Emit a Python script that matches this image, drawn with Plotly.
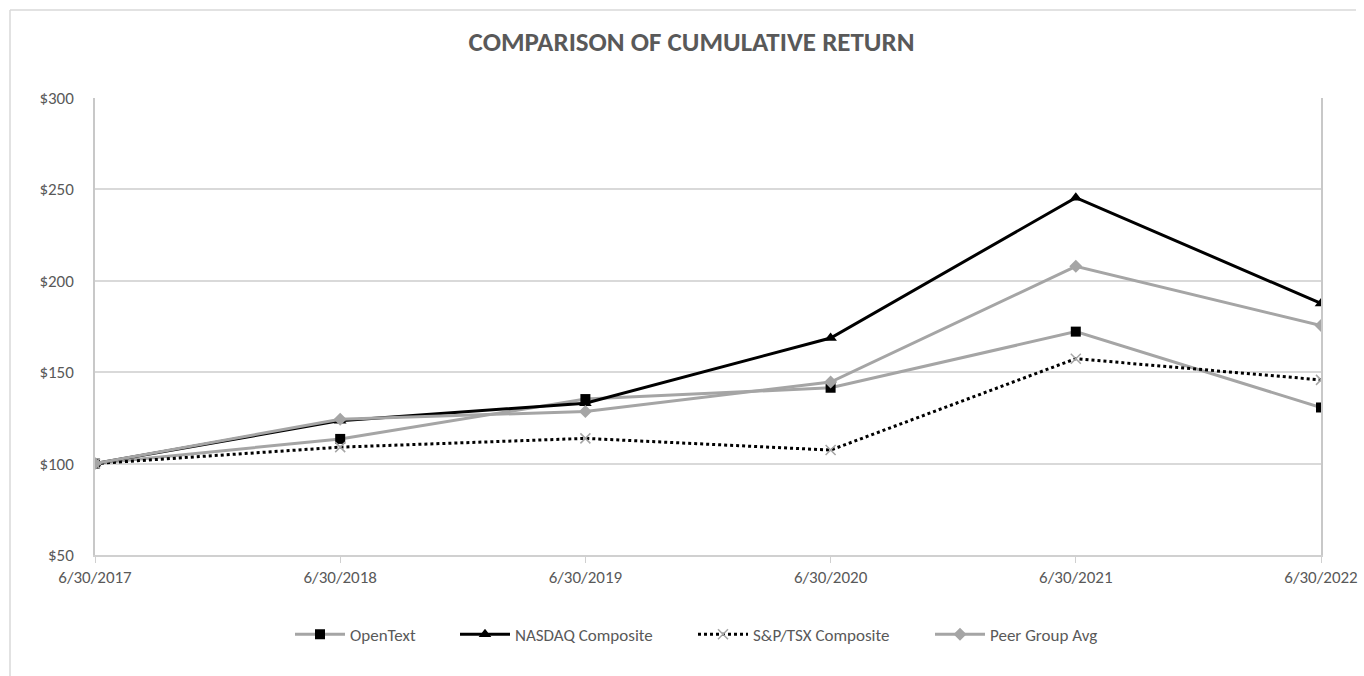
import plotly.graph_objects as go

dates = ["6/30/2017", "6/30/2018", "6/30/2019", "6/30/2020", "6/30/2021", "6/30/2022"]
opentext = [100, 113.5, 135.3, 141.5, 172.2, 130.7]
nasdaq = [100, 123.5, 133.0, 168.7, 245.5, 187.6]
sptsx = [100, 109.0, 113.8, 107.4, 157.4, 145.8]
peer = [100, 124.3, 128.5, 144.6, 207.9, 175.5]
y_ticks = [50, 100, 150, 200, 250, 300]
y_labels = ["$50", "$100", "$150", "$200", "$250", "$300"]

GRAY = "#A5A5A5"
TXT = "#595959"
FONT = "Carlito, Lato, sans-serif"

fig = go.Figure()
fig.add_trace(go.Scatter(x=dates, y=opentext, name="OpenText", mode="lines+markers",
                         line=dict(color=GRAY, width=3), legend="legend",
                         marker=dict(symbol="square", size=10, color="black")))
fig.add_trace(go.Scatter(x=dates, y=nasdaq, name="NASDAQ Composite", mode="lines+markers",
                         line=dict(color="black", width=3), legend="legend2",
                         marker=dict(symbol="triangle-up", size=11, color="black")))
fig.add_trace(go.Scatter(x=dates, y=sptsx, name="S&P/TSX Composite", mode="lines+markers",
                         line=dict(color="black", width=3, dash="dot"), legend="legend3",
                         marker=dict(symbol="x-thin", size=10, color=GRAY,
                                     line=dict(color=GRAY, width=1.5))))
fig.add_trace(go.Scatter(x=dates, y=peer, name="Peer Group Avg", mode="lines+markers",
                         line=dict(color=GRAY, width=3), legend="legend4",
                         marker=dict(symbol="diamond", size=10, color=GRAY)))

PL, PW = 95, 1226


def leg(text_start_px):
    return dict(orientation="h", x=(text_start_px - 60 - PL) / PW, xanchor="left",
                y=-0.135, yanchor="top", font=dict(size=17, color=TXT, family=FONT),
                itemwidth=50, bgcolor="rgba(0,0,0,0)")


fig.update_layout(
    width=1364, height=676,
    margin=dict(l=95, r=43, t=98, b=121),
    paper_bgcolor="white", plot_bgcolor="white",
    font=dict(family=FONT, color=TXT, size=17),
    title=dict(text="<b>COMPARISON OF CUMULATIVE RETURN</b>", x=0.507, xanchor="center",
               y=0.938, yanchor="middle", font=dict(size=27, color=TXT, family=FONT)),
    showlegend=True,
    legend=leg(350), legend2=leg(515), legend3=leg(753), legend4=leg(990),
    xaxis=dict(type="category", range=[0, 5], showgrid=False, showline=True,
               linecolor="#D0D0D0", linewidth=1.5, ticks="outside", ticklen=6,
               tickcolor="#D0D0D0", tickfont=dict(size=17, color=TXT), zeroline=False,
               automargin=False),
    yaxis=dict(range=[50, 300], tickvals=y_ticks, ticktext=y_labels, showgrid=True,
               gridcolor="#D9D9D9", gridwidth=1.5, showline=True, mirror=True,
               linecolor="#C8C8C8", linewidth=1.5, ticks="", ticklabelstandoff=16,
               tickfont=dict(size=17, color=TXT), zeroline=False, automargin=False),
)

# outer chart frame (left and top edges visible in reference)
fig.add_shape(type="line", xref="paper", yref="paper", x0=-85/1226, x1=-85/1226,
              y0=-121/457, y1=(457+88)/457, line=dict(color="#D9D9D9", width=1.5))
fig.add_shape(type="line", xref="paper", yref="paper", x0=-85/1226, x1=(1356-95)/1226,
              y0=(457+88)/457, y1=(457+88)/457, line=dict(color="#D9D9D9", width=1.5))

fig.write_html("out.html")
